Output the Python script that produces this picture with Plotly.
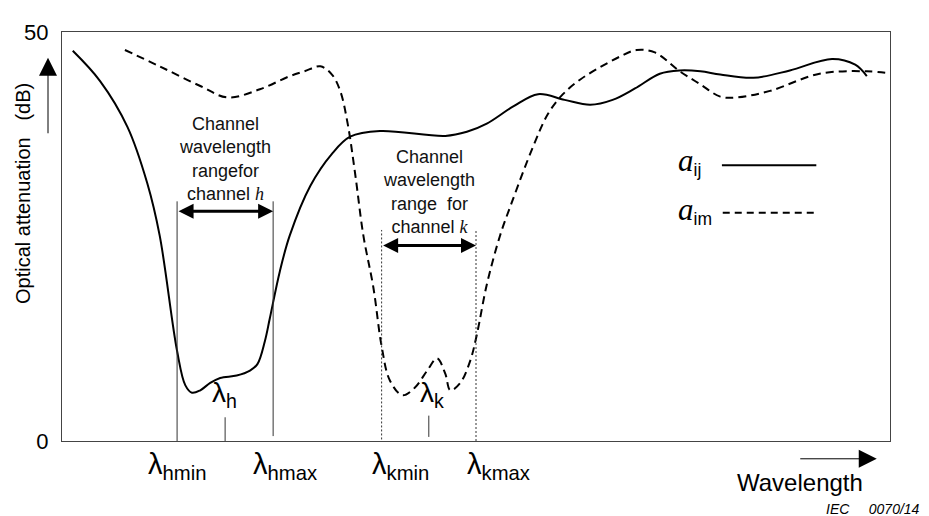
import plotly.graph_objects as go

# ---- data (wavelength in arbitrary units 0..100, attenuation in dB) ----
aij_x = [1.3, 4.6, 7.9, 10.3, 11.8, 13.9, 14.9, 15.7, 16.7, 17.9, 19.1, 21.1, 22.7, 23.6,
         24.5, 25.1, 26.3, 27.5, 30.0, 32.6, 34.8, 38.4, 46.3, 48.9, 51.3, 54.5, 57.5,
         60.7, 63.8, 66.5, 69.2, 72.2, 74.6, 77.1, 79.5, 83.5, 87.9, 93.0, 95.8, 97.2]
aij_y = [47.7, 44.0, 38.4, 31.5, 25.1, 11.0, 6.8, 5.9, 6.2, 7.1, 7.7, 8.0, 8.6, 9.4,
         12.2, 15.0, 20.7, 25.1, 31.2, 35.1, 37.2, 37.9, 37.3, 37.8, 38.8, 40.9, 42.4,
         41.7, 41.1, 41.7, 43.1, 44.9, 45.3, 45.2, 44.8, 44.4, 45.3, 46.7, 46.0, 44.6]

aim_x = [7.6, 11.8, 16.7, 20.0, 23.9, 27.5, 29.3, 31.2, 32.6, 33.6, 34.5, 35.4, 36.4,
         37.6, 38.6, 39.6, 41.1, 42.6, 44.1, 45.3, 46.3, 46.9, 48.1, 49.3, 50.1, 51.3,
         52.9, 54.3, 56.9, 58.7, 60.5, 62.6, 65.0, 67.4, 69.4, 71.6, 74.6, 77.1, 79.5,
         81.5, 85.5, 91.5, 97.2, 100.4]
aim_y = [47.8, 45.8, 43.4, 42.0, 43.0, 44.6, 45.2, 45.8, 44.8, 42.8, 38.8, 32.7, 25.1,
         18.8, 11.6, 7.4, 5.6, 6.5, 8.6, 10.1, 8.2, 6.2, 7.1, 9.8, 13.0, 19.1,
         25.1, 29.1, 36.0, 40.0, 42.4, 44.2, 45.7, 47.0, 47.8, 47.5, 45.2, 43.6, 42.1,
         42.0, 42.8, 44.9, 45.2, 44.9]

lam_hmin, lam_h, lam_hmax = 13.9, 19.7, 25.5
lam_kmin, lam_k, lam_kmax = 38.6, 44.3, 50.0
range_h_top, range_k_top = 29.3, 25.8      # top of the channel boundary lines
arrow_h_y, arrow_k_y = 28.1, 23.9          # height of the channel range arrows

y_ticks = [0, 50]
y_ticktext = ["0", "50"]

FONT = "Liberation Sans"

fig = go.Figure()
fig.add_trace(go.Scatter(x=aij_x, y=aij_y, mode="lines", line=dict(color="black", width=2, shape="spline"),
                         showlegend=False, hoverinfo="skip"))
fig.add_trace(go.Scatter(x=aim_x, y=aim_y, mode="lines", cliponaxis=False,
                         line=dict(color="black", width=2, shape="spline", dash="8px,5px"),
                         showlegend=False, hoverinfo="skip"))

shapes = []
shapes.append(dict(type="line", x0=lam_hmin, x1=lam_hmin, y0=0, y1=range_h_top, line=dict(color="#333", width=1)))
shapes.append(dict(type="line", x0=lam_hmax, x1=lam_hmax, y0=0.6, y1=range_h_top, line=dict(color="#333", width=1)))
shapes.append(dict(type="line", x0=lam_h, x1=lam_h, y0=0, y1=2.9, line=dict(color="#333", width=1)))
shapes.append(dict(type="line", x0=lam_kmin, x1=lam_kmin, y0=-0.3, y1=range_k_top, line=dict(color="#333", width=1, dash="2px,2px")))
shapes.append(dict(type="line", x0=lam_kmax, x1=lam_kmax, y0=0, y1=range_k_top, line=dict(color="#333", width=1, dash="2px,2px")))
shapes.append(dict(type="line", x0=lam_k, x1=lam_k, y0=0.5, y1=3.1, line=dict(color="#333", width=1)))
# legend samples
shapes.append(dict(type="line", x0=79.7, x1=91.1, y0=33.7, y1=33.7, line=dict(color="black", width=2)))
shapes.append(dict(type="line", x0=79.8, x1=91.1, y0=27.9, y1=27.9, line=dict(color="black", width=2, dash="7px,5px")))

ann = []
# double arrows
for x0, x1, yy in [(lam_hmin, lam_hmax, arrow_h_y), (lam_kmin, lam_kmax, arrow_k_y)]:
    ann.append(dict(x=x1, y=yy, ax=x0, ay=yy, xref="x", yref="y", axref="x", ayref="y", text="",
                    showarrow=True, arrowhead=2, arrowside="end+start", arrowwidth=3, arrowsize=1.0,
                    arrowcolor="black", standoff=0, startstandoff=0))
# channel texts
ann.append(dict(x=(lam_hmin + lam_hmax) / 2, y=34.5, xref="x", yref="y", showarrow=False,
                xanchor="center", yanchor="middle",
                text="Channel<br>wavelength<br>rangefor<br>channel <span style=\"font-family:Liberation Serif\"><i>h</i></span>",
                font=dict(family=FONT, size=18, color="#111"), align="center"))
ann.append(dict(x=(lam_kmin + lam_kmax) / 2, y=30.4, xref="x", yref="y", showarrow=False,
                xanchor="center", yanchor="middle",
                text="Channel<br>wavelength<br>range  for<br>channel <span style=\"font-family:Liberation Serif\"><i>k</i></span>",
                font=dict(family=FONT, size=18, color="#111"), align="center"))
# lambda labels inside
for xv, sub, xs in [(lam_h, "h", -15), (lam_k, "k", -11)]:
    ann.append(dict(x=xv, y=3.3, xref="x", yref="y", xanchor="left", yanchor="bottom", xshift=xs,
                    showarrow=False, text="λ<sub>%s</sub>" % sub, font=dict(family=FONT, size=28, color="black")))
# lambda labels below axis
for xv, sub, xs in [(lam_hmin, "hmin", -31), (lam_hmax, "hmax", -22), (lam_kmin, "kmin", -12), (lam_kmax, "kmax", -11)]:
    ann.append(dict(x=xv, y=-0.012, xref="x", yref="paper", xanchor="left", yanchor="top", xshift=xs,
                    showarrow=False, text="λ<sub>%s</sub>" % sub, font=dict(family=FONT, size=29, color="black")))
# legend labels
for yy, sub in [(34.2, "ij"), (28.2, "im")]:
    ann.append(dict(x=74.2, y=yy, xref="x", yref="y", xanchor="left", yanchor="middle", showarrow=False,
                    text="<span style=\"font-family:Liberation Serif;font-size:31px\"><i>a</i></span><sub>%s</sub>" % sub,
                    font=dict(family=FONT, size=25, color="black")))
# y-axis title and arrow
ann.append(dict(x=-0.047, y=0.604, xref="paper", yref="paper", xanchor="center", yanchor="middle",
                showarrow=False, textangle=-90,
                text="Optical attenuation   (dB)", font=dict(family=FONT, size=20, color="black")))
ann.append(dict(x=-0.0169, y=0.937, xref="paper", yref="paper", ax=0, ay=77, text="", showarrow=True,
                arrowhead=2, arrowwidth=1, arrowsize=3.6, arrowcolor="black", standoff=0))
# x-axis title and arrow
ann.append(dict(x=0.984, y=-0.0435, xref="paper", yref="paper", ax=-78, ay=0, text="", showarrow=True,
                arrowhead=2, arrowwidth=1, arrowsize=3.6, arrowcolor="black", standoff=0))
ann.append(dict(x=0.891, y=-0.101, xref="paper", yref="paper", xanchor="center", yanchor="middle",
                showarrow=False, text="Wavelength", font=dict(family=FONT, size=24, color="black")))
ann.append(dict(x=1.039, y=-0.1667, xref="paper", yref="paper", xanchor="right", yanchor="middle",
                showarrow=False, text="<i>IEC     0070/14</i>", font=dict(family=FONT, size=14, color="black")))

# page body has an 8px margin, so the figure is sized/offset to land the plot frame at x 62..890, y 27..441
fig.update_layout(
    width=921, height=508, margin=dict(l=54, r=39, t=19, b=75),
    paper_bgcolor="white", plot_bgcolor="white",
    shapes=shapes, annotations=ann, showlegend=False,
    xaxis=dict(range=[0, 100], showgrid=False, zeroline=False, showticklabels=False, ticks="",
               showline=True, mirror=True, linecolor="#444", linewidth=1),
    yaxis=dict(range=[0, 50], showgrid=False, zeroline=False, tickvals=y_ticks, ticktext=y_ticktext,
               ticks="", tickfont=dict(family=FONT, size=22, color="black"), ticklabelstandoff=8,
               showline=True, mirror=True, linecolor="#444", linewidth=1),
)

fig.write_html("out.html")
